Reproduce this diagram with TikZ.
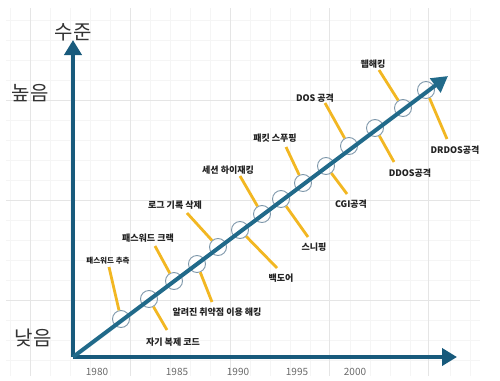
\documentclass[tikz,border=0pt]{standalone}
\usepackage{fontspec}
\setmainfont{Noto Sans CJK KR}
\usetikzlibrary{arrows.meta}
\definecolor{axiscol}{HTML}{185A7C}
\definecolor{diagcol}{HTML}{216A8A}
\definecolor{yel}{HTML}{F2B722}
\definecolor{ringcol}{HTML}{7F98AB}
\definecolor{txt}{HTML}{222222}
\definecolor{big}{HTML}{333333}
\definecolor{yr}{HTML}{6A6A6A}
\tikzset{
  axisline/.style={draw=axiscol, line width=4.5pt, -{Triangle[length=15pt,width=17pt]}},
  diagline/.style={draw=diagcol, line width=4pt, -{Triangle[length=16pt,width=17pt]}},
  ring/.style={circle, draw=ringcol, line width=0.9pt, minimum size=17pt, inner sep=0pt},
  stick/.style={draw=yel, line width=2.8pt},
  lab/.style={font=\fontsize{9}{10}\selectfont\bfseries, text=txt, inner sep=1pt},
  biglab/.style={font=\fontsize{20}{22}\selectfont, text=big, inner sep=0pt},
  yrlab/.style={font=\fontsize{10}{12}\selectfont, text=yr, inner sep=0pt},
}
\begin{document}
\begin{tikzpicture}[x=1pt,y=-1pt]
\useasboundingbox (0,0) rectangle (500,380);
\fill[white] (0,0) rectangle (500,380);
% grid
\foreach \gx in {10,50,70,90,110,150,170,190,210,250,270,290,310,350,370,390,410,450,470}
  \draw[black!4, line width=0.4pt] (\gx,8) -- (\gx,376);
\foreach \gy in {20,40,60,80,120,140,160,180,220,240,260,280,320,340,360}
  \draw[black!4, line width=0.4pt] (6,\gy) -- (480,\gy);
\foreach \gx in {30,130,230,329,428}
  \draw[black!10, line width=0.6pt] (\gx,8) -- (\gx,376);
\foreach \gy in {100,200,300}
  \draw[black!10, line width=0.6pt] (6,\gy) -- (480,\gy);
% axes
\coordinate (O) at (73,357);
\coordinate (ytip) at (73,40);
\coordinate (xtip) at (457,357);
\coordinate (dtip) at (448,76);
% circles
\node[ring] (c1) at (121,319) {};
\node[ring] (c2) at (149,299) {};
\node[ring] (c3) at (174,281) {};
\node[ring] (c4) at (197,264) {};
\node[ring] (c5) at (218,247) {};
\node[ring] (c6) at (240,230) {};
\node[ring] (c7) at (262,214) {};
\node[ring] (c8) at (281,199) {};
\node[ring] (c9) at (303,183) {};
\node[ring] (c10) at (326,166) {};
\node[ring] (c11) at (349,146) {};
\node[ring] (c12) at (375,128) {};
\node[ring] (c13) at (403,108) {};
\node[ring] (c14) at (426,90) {};
% stick ends
\coordinate (e1) at (109,267);
\coordinate (e2) at (167,330);
\coordinate (e3) at (155,246);
\coordinate (e4) at (212,302);
\coordinate (e5) at (187,213);
\coordinate (e6) at (277,268);
\coordinate (e7) at (240,176);
\coordinate (e8) at (308,237);
\coordinate (e9) at (286,147);
\coordinate (e10) at (347,194);
\coordinate (e11) at (325,103);
\coordinate (e12) at (394,162);
\coordinate (e13) at (379,70);
\coordinate (e14) at (447,139);
\foreach \i in {1,...,14} \draw[stick] (e\i) -- (c\i);
\draw[axisline] (O) -- (ytip);
\draw[axisline] (O) -- (xtip);
\draw[diagline] (O) -- (dtip);
% labels
\node[lab, font=\fontsize{7.5}{8}\selectfont\bfseries] (l1) at (108,261) {패스워드 추측};
\node[lab] (l2) at (173,342) {자기 복제 코드};
\node[lab] (l3) at (148,238) {패스워드 크랙};
\node[lab] (l4) at (217,312) {알려진 취약점 이용 해킹};
\node[lab] (l5) at (175,205) {로그 기록 삭제};
\node[lab] (l6) at (281,278) {백도어};
\node[lab] (l7) at (228,170) {세션 하이재킹};
\node[lab] (l8) at (314,247) {스니핑};
\node[lab] (l9) at (275,138) {패킷 스푸핑};
\node[lab] (l10) at (351,204) {CGI공격};
\node[lab] (l11) at (315,98) {DOS 공격};
\node[lab] (l12) at (410,173) {DDOS공격};
\node[lab] (l13) at (373,64) {웹해킹};
\node[lab] (l14) at (455,150) {DRDOS공격};
\node[biglab] (suj) at (73,32) {수준};
\node[biglab] (hi) at (30,93) {높음};
\node[biglab] (lo) at (33,338) {낮음};
\node[yrlab] (y1) at (97,372) {1980};
\node[yrlab] (y2) at (177,372) {1985};
\node[yrlab] (y3) at (238,372) {1990};
\node[yrlab] (y4) at (297,372) {1995};
\node[yrlab] (y5) at (355,372) {2000};
\end{tikzpicture}
\end{document}
